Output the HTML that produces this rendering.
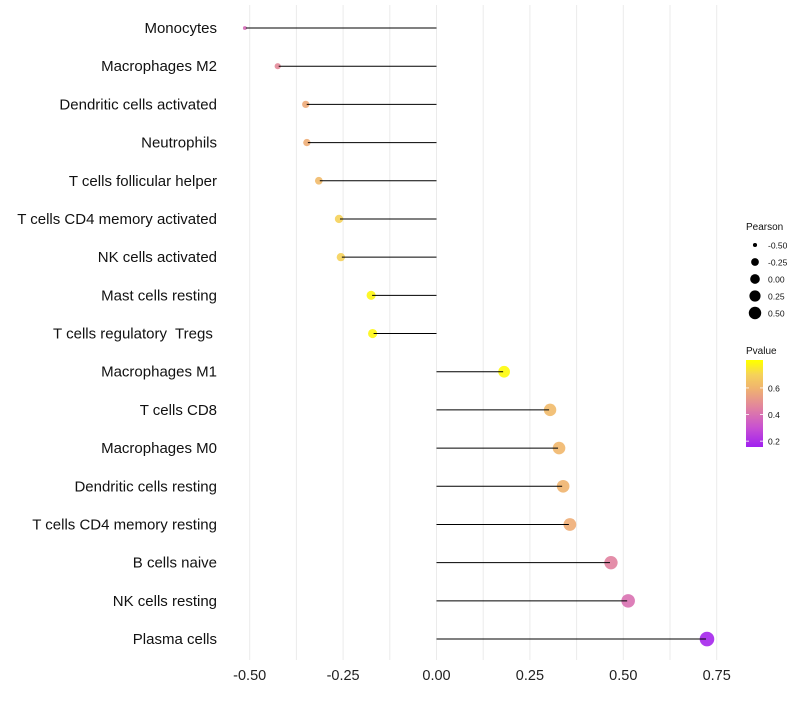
<!DOCTYPE html>
<html><head><meta charset="utf-8"><style>
body{margin:0;background:#fff;font-family:"Liberation Sans",sans-serif}
</style></head><body>
<svg id="c" width="800" height="700" xmlns="http://www.w3.org/2000/svg"></svg>
<script>
const categories=["Monocytes","Macrophages M2","Dendritic cells activated","Neutrophils","T cells follicular helper","T cells CD4 memory activated","NK cells activated","Mast cells resting","T cells regulatory  Tregs ","Macrophages M1","T cells CD8","Macrophages M0","Dendritic cells resting","T cells CD4 memory resting","B cells naive","NK cells resting","Plasma cells"];
const pearson=[-0.513,-0.425,-0.350,-0.347,-0.315,-0.261,-0.256,-0.175,-0.171,0.181,0.304,0.328,0.339,0.357,0.467,0.513,0.724];
const pvalue=[0.38,0.47,0.57,0.58,0.62,0.70,0.70,0.78,0.78,0.79,0.62,0.61,0.60,0.58,0.45,0.40,0.17];
const xTicks=[-0.5,-0.25,0,0.25,0.5,0.75];
const xTickLabels=["-0.50","-0.25","0.00","0.25","0.50","0.75"];
const xGrid=[-0.5,-0.375,-0.25,-0.125,0,0.125,0.25,0.375,0.5,0.625,0.75];
const sizeLegend=[-0.5,-0.25,0,0.25,0.5];
const sizeLegendLabels=["-0.50","-0.25","0.00","0.25","0.50"];
const pTicks=[0.2,0.4,0.6];

const svg=document.getElementById('c');
const NS="http://www.w3.org/2000/svg";
function mk(t,a,p){const e=document.createElementNS(NS,t);for(const k in a)e.setAttribute(k,a[k]);(p||svg).appendChild(e);return e;}
const x=v=>436.5+v*373.6;
const y=i=>28+i*38.19;
const r=v=>1.5+5.2*Math.sqrt(Math.max(0,v+0.52));
const stops=[[0.15,[160,32,240]],[0.3,[200,80,210]],[0.45,[225,130,160]],[0.6,[240,180,110]],[0.7,[245,210,90]],[0.8,[255,255,0]]];
function col(p){if(p<=stops[0][0])return `rgb(${stops[0][1]})`;for(let i=1;i<stops.length;i++){if(p<=stops[i][0]){const a=stops[i-1],b=stops[i],t=(p-a[0])/(b[0]-a[0]);return 'rgb('+a[1].map((c,k)=>Math.round(c+(b[1][k]-c)*t)).join(',')+')';}}return `rgb(${stops[stops.length-1][1]})`;}

xGrid.forEach(v=>{const g=mk('line',{x1:x(v),x2:x(v),y1:5,y2:660,stroke:'#ebebeb','stroke-width':1});

});
xTicks.forEach((v,i)=>{const t=mk('text',{x:x(v),y:680,'text-anchor':'middle','font-size':14.5,fill:'#222'});t.textContent=xTickLabels[i];

});
categories.forEach((c,i)=>{
const t=mk('text',{x:217,y:y(i)+5,'text-anchor':'end','font-size':15,fill:'#111',style:'white-space:pre'});t.textContent=c;


const d=mk('circle',{cx:x(pearson[i]),cy:y(i),r:r(pearson[i]),fill:col(pvalue[i]),'fill-opacity':0.9});


const l=mk('line',{x1:x(0),x2:x(pearson[i])+(pearson[i]<0?1:-1),y1:y(i),y2:y(i),stroke:'#000','stroke-width':1});


});
// size legend
const lt=mk('text',{x:746,y:230,'font-size':10,fill:'#111'});lt.textContent='Pearson';


sizeLegend.forEach((v,i)=>{const yy=245+i*17;
const c=mk('circle',{cx:755,cy:yy,r:r(v)*0.92,fill:'#000'});


const t=mk('text',{x:768,y:yy+3.5,'font-size':8.5,fill:'#111'});t.textContent=sizeLegendLabels[i];

});
// color legend
const pt=mk('text',{x:746,y:354,'font-size':10,fill:'#111'});pt.textContent='Pvalue';


const defs=mk('defs',{});const lg=mk('linearGradient',{id:'pg',x1:0,y1:1,x2:0,y2:0},defs);
const pMin=0.156,pMax=0.81;
stops.forEach(s=>{mk('stop',{offset:Math.max(0,(s[0]-pMin)/(pMax-pMin)),'stop-color':`rgb(${s[1]})`},lg);});
const cb=mk('rect',{x:746,y:360,width:17,height:87,fill:'url(#pg)'});


const py=p=>447-(p-pMin)/(pMax-pMin)*87;
pTicks.forEach(p=>{const t=mk('text',{x:768,y:py(p)+3.5,'font-size':8.5,fill:'#111'});t.textContent=p.toFixed(1);


mk('line',{x1:746,x2:749,y1:py(p),y2:py(p),stroke:'#fff','stroke-width':0.8});
mk('line',{x1:760,x2:763,y1:py(p),y2:py(p),stroke:'#fff','stroke-width':0.8});});
</script>
</body></html>
